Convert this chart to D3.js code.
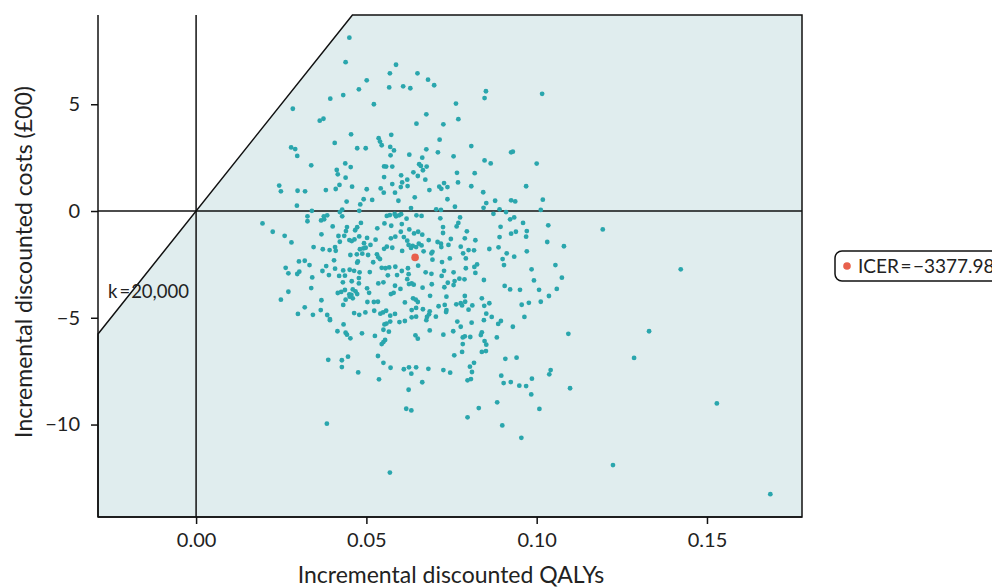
<!DOCTYPE html>
<html>
<head>
<meta charset="utf-8">
<script src="https://cdn.jsdelivr.net/npm/d3@7"></script>
<style>
  html, body { margin: 0; padding: 0; background: #fff; }
  svg { display: block; font-family: Lato, "Open Sans", sans-serif; }
</style>
</head>
<body>
<svg id="chart" width="992" height="588"></svg>
<script>
// Probabilistic sensitivity analysis: incremental QALYs (x) vs incremental costs in £00 (y)
const incQaly = [
  0.0450,0.0439,0.0587,0.0569,0.0650,0.0501,0.0608,0.0629,0.0567,0.0478,0.0432,0.0394,0.0522,0.0284,0.0363,0.0374,
  0.0647,0.0455,0.0536,0.0540,0.0545,0.0573,0.0407,0.0279,0.0291,0.0297,0.0473,0.0498,0.0570,0.0581,0.0571,0.0626,
  0.0338,0.0438,0.0454,0.0413,0.0416,0.0439,0.0552,0.0558,0.0576,0.0552,0.0602,0.0638,0.0651,0.0620,0.0655,
  0.0681,0.0699,0.0851,0.0847,0.1016,0.0763,0.0676,0.0726,0.0770,0.0715,0.0676,0.0710,0.0664,0.0808,0.0756,0.0925,
  0.0930,0.0660,0.0666,0.0677,0.0673,0.0847,0.0865,0.1000,0.0766,0.0818,
  0.0605,0.0621,0.0601,0.0576,0.0244,0.0249,0.0298,0.0320,0.0381,0.0410,0.0421,0.0458,0.0501,0.0542,0.0551,0.0584,
  0.0642,0.0492,0.0517,0.0442,0.0482,0.0594,0.0296,0.0631,0.0340,0.0422,0.0429,0.0479,0.0583,0.0596,0.0602,0.0560,
  0.0569,0.0587,0.0327,0.0327,0.0367,0.0375,0.0385,0.0376,0.0429,0.0618,0.0647,0.0195,0.0553,0.0573,0.0604,0.0401,
  0.0484,0.0473,0.0443,0.0440,0.0467,0.0225,0.0532,0.0601,0.0626,0.0652,0.0260,0.0368,0.0418,0.0435,0.0450,0.0457,
  0.0465,0.0479,0.0502,0.0527,0.0572,0.0585,0.0610,0.0640,0.0280,0.0422,0.0493,0.0512,0.0491,0.0498,0.0620,0.0624,
  0.0636,0.0646,0.0654,0.0345,0.0372,0.0392,0.0408,0.0410,0.0481,0.0488,0.0453,0.0472,0.0505,0.0531,0.0535,0.0540,
  0.0552,0.0560,0.0576,0.0605,0.0631,0.0405,0.0475,0.0473,0.0520,0.0302,0.0319,0.0333,0.0382,0.0408,0.0432,0.0451,
  0.0464,0.0263,0.0271,0.0297,0.0303,0.0371,0.0390,0.0420,0.0437,0.0480,0.0510,0.0545,0.0556,0.0567,0.0585,0.0563,
  0.0590,0.0604,0.0622,0.0624,0.0652,0.0341,0.0457,0.0431,0.0478,0.0478,0.0535,0.0550,0.0584,0.0620,0.0625,0.0633,
  0.0639,0.0338,0.0437,0.0416,0.0426,0.0460,0.0468,0.0473,0.0456,0.0450,0.0502,0.0508,0.0271,0.0572,0.0580,0.0600,
  0.0637,0.0645,0.0651,0.0613,0.0249,0.0368,0.0432,0.0439,0.0451,0.0460,0.0503,0.0522,0.0534,0.0319,0.0366,0.0299,
  0.0343,0.0385,0.0393,0.0464,0.0479,0.0497,0.0523,0.0541,0.0549,0.0558,0.0570,0.0584,0.0633,0.0646,0.0433,0.0553,
  0.0570,0.0597,0.0613,0.0633,0.0646,
  0.0393,0.0415,0.0439,0.0443,0.0453,0.0487,0.0525,0.0559,0.0550,0.0566,0.0644,0.0651,0.0545,0.0550,0.0555,0.0388,
  0.0428,0.0446,0.0428,0.0476,0.0534,0.0550,0.0571,0.0610,0.0625,0.0646,0.0632,0.0537,0.0624,0.0617,0.0632,0.0384,
  0.0569,
  0.0676,0.0767,0.0809,0.0845,0.0887,0.0895,0.0930,0.0777,0.0686,0.0726,0.0755,0.0783,0.0789,0.0805,0.0836,0.0839,
  0.0883,0.1093,0.0847,0.0852,0.0783,0.0781,0.0758,0.0839,0.0851,0.0908,0.0941,0.0816,0.0804,0.0810,0.0797,0.0807,
  0.0682,0.0726,0.0746,0.0664,0.0896,0.0903,0.0924,0.0949,0.0969,0.0986,0.0984,0.1037,0.1041,0.1008,0.1098,0.0884,
  0.0830,0.0797,0.0899,0.0955,
  0.0728,0.0714,0.0720,0.0738,0.0769,0.0685,0.0808,0.0843,0.0969,0.0738,0.0852,0.0844,0.0878,0.0925,0.0937,0.1018,
  0.0760,0.0705,0.0719,0.0891,0.0873,0.0910,0.1012,0.0662,0.0717,0.0775,0.0770,0.0765,0.0922,0.0934,0.0960,0.1034,
  0.0725,0.0725,0.0894,0.0795,0.0664,0.0925,0.0939,0.0971,0.0969,0.0891,0.0683,0.0748,0.0789,0.0820,0.0662,0.0709,
  0.0719,0.0720,0.0741,0.1031,0.1080,0.0777,0.0800,0.0816,0.0784,0.0792,0.0861,0.0888,0.0912,0.0934,0.0971,0.0668,
  0.0694,0.0691,0.0745,0.0694,0.0900,0.0722,0.0904,0.0825,0.0817,0.0820,0.0792,0.0728,0.1055,0.0985,0.0674,0.0691,
  0.0756,0.0721,0.0773,0.0788,0.0845,0.1074,0.0992,0.0739,0.0756,0.0759,0.0692,0.0665,0.0906,0.0922,0.0951,0.1007,
  0.1059,0.0729,0.0687,0.0735,0.0789,0.0790,0.0777,0.0764,0.0781,0.0811,0.0800,0.0839,0.0846,0.0861,0.1012,0.1036,
  0.0977,0.0956,0.0666,0.0686,0.0684,0.0678,0.0704,0.0712,0.0730,0.0735,0.0734,0.0852,0.0868,0.0964,
  0.1194,0.1423,0.1330,0.1286,0.1529,0.1224,0.1686
];

const incCost = [
  8.12,6.97,6.85,6.45,6.45,6.12,5.84,5.75,5.79,5.70,5.43,5.26,5.00,4.79,4.23,4.32,
  4.09,3.59,3.41,3.25,3.08,3.57,3.19,2.98,2.90,2.58,2.94,2.94,3.00,2.84,2.61,2.64,
  2.14,2.23,2.06,1.92,1.72,1.56,2.09,2.08,2.08,1.59,1.67,1.81,1.64,1.47,2.19,
  6.15,5.89,5.61,5.29,5.49,5.03,4.53,4.06,4.30,3.34,2.89,2.75,2.50,3.04,2.56,2.75,
  2.78,2.11,1.91,2.08,1.47,2.37,2.23,2.22,1.79,1.77,
  1.34,1.17,1.12,1.26,1.19,0.92,0.95,0.92,0.98,1.03,1.22,1.14,1.02,1.06,0.86,0.86,
  0.64,0.55,0.52,0.44,0.31,0.48,0.25,0.14,0.01,-0.05,0.06,0.01,-0.14,-0.20,-0.15,-0.23,
  -0.19,-0.25,-0.25,-0.48,-0.44,-0.25,-0.20,-0.39,-0.25,-0.36,-0.20,-0.58,-0.58,-0.69,-0.61,-0.72,
  -0.56,-0.76,-0.75,-0.94,-0.90,-0.97,-0.81,-0.97,-0.86,-0.97,-1.16,-1.09,-1.17,-1.16,-1.36,-1.41,
  -1.33,-1.19,-1.26,-1.34,-1.28,-1.20,-1.22,-1.05,-1.47,-1.44,-1.51,-1.59,-1.75,-1.72,-1.39,-1.59,
  -1.63,-1.69,-1.53,-1.69,-1.79,-1.83,-1.69,-1.86,-1.79,-2.00,-2.06,-2.03,-2.06,-2.03,-2.17,-2.25,
  -1.77,-1.67,-1.72,-1.87,-1.73,-2.31,-2.36,-2.42,-2.40,-2.36,-2.33,-2.53,-2.58,-2.70,-2.78,-2.75,
  -2.80,-2.66,-2.92,-2.95,-2.84,-2.81,-3.00,-3.04,-3.03,-2.87,-2.86,-2.66,-2.68,-2.64,-2.61,-3.01,
  -3.00,-2.81,-2.68,-2.96,-2.56,-3.11,-3.29,-3.34,-3.14,-3.39,-3.39,-3.34,-3.50,-3.19,-3.42,-3.39,
  -3.45,-3.61,-3.70,-3.84,-3.79,-3.67,-3.76,-3.89,-3.93,-3.90,-3.62,-3.83,-3.78,-3.89,-3.83,-3.65,
  -4.09,-4.15,-4.26,-4.28,-4.15,-4.18,-4.40,-4.15,-4.01,-4.09,-4.26,-4.26,-4.25,-4.51,-4.64,-4.82,
  -4.86,-4.87,-5.06,-4.78,-4.86,-4.75,-4.67,-4.81,-4.75,-4.67,-4.90,-4.82,-4.64,-4.54,-5.31,-5.31,
  -5.18,-5.20,-5.15,-4.98,-4.95,
  -5.11,-5.63,-5.70,-5.79,-5.96,-5.73,-5.85,-5.27,-5.56,-5.65,-5.82,-5.98,-6.23,-6.14,-6.04,-6.97,
  -6.99,-6.82,-7.31,-7.56,-6.79,-7.11,-7.34,-7.41,-7.32,-7.32,-7.62,-7.88,-8.37,-9.26,-9.34,-9.96,
  -12.25,
  -5.11,-5.18,-5.23,-5.11,-5.29,-5.15,-5.42,-5.42,-5.59,-5.79,-5.63,-5.92,-5.87,-5.90,-5.81,-5.68,
  -5.92,-5.75,-6.09,-6.26,-6.23,-6.60,-6.76,-6.60,-6.56,-6.92,-6.87,-7.11,-7.29,-7.54,-7.93,-7.87,
  -7.39,-7.45,-7.57,-8.02,-7.71,-8.06,-8.01,-8.18,-8.20,-7.85,-8.59,-7.65,-7.45,-9.27,-8.30,-8.96,
  -9.23,-9.66,-10.04,-10.62,
  1.31,1.14,1.04,1.12,1.34,0.98,1.16,0.88,1.16,0.55,0.37,0.15,0.48,0.50,0.45,0.53,
  0.20,0.08,0.05,0.08,-0.13,-0.05,0.05,-0.23,-0.34,-0.30,-0.56,-0.72,-0.39,-0.30,-0.56,-0.67,
  -0.75,-1.03,-0.74,-0.95,-1.11,-1.06,-0.97,-0.94,-1.20,-1.22,-1.36,-1.31,-1.28,-1.37,-1.61,-1.45,
  -1.53,-1.69,-1.59,-1.45,-1.65,-1.67,-1.83,-1.84,-1.98,-2.22,-1.78,-1.70,-1.98,-2.14,-1.89,-1.89,
  -1.91,-1.98,-2.22,-2.28,-2.25,-2.39,-2.53,-2.50,-2.62,-2.90,-2.68,-2.80,-2.53,-2.73,-2.87,-2.94,
  -2.87,-3.04,-3.17,-3.20,-3.23,-3.12,-3.25,-3.36,-3.47,-3.28,-3.43,-3.59,-3.51,-3.67,-3.69,-3.69,
  -3.65,-3.57,-3.97,-4.01,-3.98,-4.25,-4.32,-4.37,-4.42,-4.42,-4.62,-4.09,-4.44,-4.32,-4.25,-3.98,
  -4.30,-4.39,-4.60,-4.70,-4.84,-4.96,-4.95,-4.46,-4.40,-4.64,-4.73,-4.81,-4.96,-4.96,
  -0.86,-2.73,-5.63,-6.88,-9.01,-11.90,-13.26
];

// Mean outcome and the ICER reported in the legend (cost in £00, so ×100 gives £/QALY)
const icer = -3377.98;
const meanQaly = 0.0643;
const meanCost = icer * meanQaly / 100;

// Willingness-to-pay threshold (£ per QALY)
const wtp = 20000;

const xTicks = [0.00, 0.05, 0.10, 0.15];
const yTicks = [-10, -5, 0, 5];

const svg = d3.select("#chart");
const plotL = 98, plotR = 802, plotT = 15, plotB = 517;

const xs = d3.scaleLinear().domain([-0.0288, 0.1779]).range([plotL, plotR]);
const ys = d3.scaleLinear().domain([-14.33, 9.18]).range([plotB, plotT]);

const [x0, x1] = xs.domain();
const [y0, y1] = ys.domain();
const slope = wtp / 100; // £00 per QALY

// Cost-effective region (below the threshold line)
const region = [
  [x0, slope * x0],
  [y1 / slope, y1],
  [x1, y1],
  [x1, y0],
  [x0, y0]
];
svg.append("path")
  .attr("d", d3.line().x(d => xs(d[0])).y(d => ys(d[1]))(region) + "Z")
  .attr("fill", "#e0edee")
  .attr("stroke", "#111")
  .attr("stroke-width", 1.5);

// Reference lines through the origin
svg.append("line")
  .attr("x1", xs(0)).attr("x2", xs(0)).attr("y1", plotT).attr("y2", plotB)
  .attr("stroke", "#111").attr("stroke-width", 1.5);
svg.append("line")
  .attr("x1", plotL).attr("x2", plotR).attr("y1", ys(0)).attr("y2", ys(0))
  .attr("stroke", "#111").attr("stroke-width", 1.5);

// Simulation draws
svg.append("g")
  .selectAll("circle")
  .data(d3.zip(incQaly, incCost))
  .join("circle")
  .attr("cx", d => xs(d[0]))
  .attr("cy", d => ys(d[1]))
  .attr("r", 2.4)
  .attr("fill", "#2aa6ad");

// Mean point
svg.append("circle")
  .attr("cx", xs(meanQaly)).attr("cy", ys(meanCost))
  .attr("r", 3.8).attr("fill", "#e8604c");

// Threshold label
const kLabel = svg.append("text")
  .attr("x", 108).attr("y", 298)
  .attr("font-size", 18.5).attr("fill", "#222");
kLabel.append("tspan").text("k");
kLabel.append("tspan").attr("dx", 2).text("=");
kLabel.append("tspan").attr("dx", 1).text(d3.format(",")(wtp));

// Axes
const xAxis = d3.axisBottom(xs).tickValues(xTicks).tickFormat(d3.format(".2f")).tickSize(7).tickSizeOuter(0);
const yAxis = d3.axisLeft(ys).tickValues(yTicks).tickFormat(d3.format("d")).tickSize(7).tickSizeOuter(0);

const gx = svg.append("g").attr("transform", `translate(0,${plotB})`).call(xAxis);
const gy = svg.append("g").attr("transform", `translate(${plotL},0)`).call(yAxis);
[gx, gy].forEach(g => {
  g.select(".domain").attr("stroke", "#111").attr("stroke-width", 1.5);
  g.selectAll(".tick line").attr("stroke", "#111").attr("stroke-width", 1.5);
  g.selectAll(".tick text").attr("font-family", "Lato, sans-serif").attr("font-size", 20).attr("fill", "#222");
});
gx.select(".domain").attr("d", `M${plotL},0H${plotR}`);
gy.select(".domain").attr("d", `M0,${plotT}V${plotB}`);
gx.selectAll(".tick text").attr("dy", "1.0em");
gy.selectAll(".tick text").attr("dx", "-0.4em");

// Axis titles
svg.append("text")
  .attr("x", 451).attr("y", 583)
  .attr("text-anchor", "middle").attr("font-size", 23).attr("fill", "#222")
  .text("Incremental discounted QALYs");
svg.append("text")
  .attr("transform", "translate(32,262) rotate(-90)")
  .attr("text-anchor", "middle").attr("font-size", 23).attr("fill", "#222")
  .text("Incremental discounted costs (£00)");

// Legend
const lg = svg.append("g").attr("transform", "translate(835,251)");
lg.append("rect")
  .attr("width", 200).attr("height", 30).attr("rx", 7)
  .attr("fill", "#fff").attr("stroke", "#111").attr("stroke-width", 1.5);
lg.append("circle").attr("cx", 12).attr("cy", 15).attr("r", 3.8).attr("fill", "#e8604c");
const lgText = lg.append("text")
  .attr("x", 23).attr("y", 22)
  .attr("font-size", 19).attr("fill", "#222");
lgText.append("tspan").text("ICER");
lgText.append("tspan").attr("dx", 1.5).text("=");
lgText.append("tspan").attr("dx", 1.5).text(d3.format(".2f")(icer));
</script>
</body>
</html>
